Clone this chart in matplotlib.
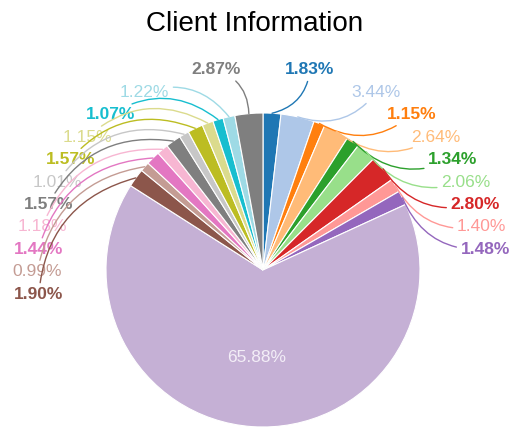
import matplotlib
matplotlib.use("Agg")
import matplotlib.pyplot as plt
import numpy as np

plt.rcParams['font.family'] = ['Liberation Sans', 'DejaVu Sans']

# share of each client group, clockwise from 12 o'clock
shares = [1.83, 3.44, 1.15, 2.64, 1.34, 2.06, 2.80, 1.40, 1.48, 65.88,
          1.90, 0.99, 1.44, 1.18, 1.57, 1.01, 1.57, 1.15, 1.07, 1.22, 2.87]
colors = list(plt.cm.tab20.colors) + ['#7f7f7f']
dark = [i % 2 == 0 for i in range(len(shares))]  # dark tab20 shades get bold labels
right_idx = list(range(0, 9))       # labelled on the right, top to bottom
left_idx = [i for i in range(20, 9, -1)]   # labelled on the left, top to bottom

fig = plt.figure(figsize=(5.10, 4.28), dpi=100)
ax = fig.add_axes([0, 0, 1, 1])

wedges, _ = ax.pie(shares, colors=colors, startangle=90, counterclock=False,
                   radius=1.0, wedgeprops=dict(edgecolor='white', linewidth=0.8))

# pie() resets the limits, so fix the frame afterwards (157 px per unit)
r_px = 157.0
cx_px, cy_px = 263.0, 270.0
ax.set_xlim(-cx_px / r_px, (510 - cx_px) / r_px)
ax.set_ylim(-(428 - cy_px) / r_px, cy_px / r_px)
ax.set_aspect('equal')
ax.axis('off')

# mid angle of each wedge
mids = [np.deg2rad((w.theta1 + w.theta2) / 2) for w in wedges]

step = 0.143
top = 1.275


def place(idx_list, side, lab_r):
    for k, i in enumerate(idx_list):
        y = top - k * step
        x = side * np.sqrt(max(lab_r ** 2 - y ** 2, 0.02))
        px, py = np.cos(mids[i]), np.sin(mids[i])
        ax.annotate(f"{shares[i]:.2f}%", xy=(px, py), xytext=(x, y),
                    ha='left' if side > 0 else 'right', va='center',
                    fontsize=12.5, color=colors[i],
                    fontweight='bold' if dark[i] else 'normal',
                    arrowprops=dict(arrowstyle='-', color=colors[i], lw=1.0,
                                    shrinkA=1, shrinkB=0,
                                    connectionstyle='arc3,rad=-0.35'))


place(right_idx, 1, 1.265)
place(left_idx, -1, 1.28)

big = mids[9]
ax.text(0.56 * np.cos(big), 0.56 * np.sin(big), f"{shares[9]:.2f}%",
        ha='center', va='center', fontsize=12.5, color='#f3eef7')

fig.text(0.5, 0.945, "Client Information", ha='center', va='center', fontsize=20)

fig.savefig("out.png", dpi=100)
